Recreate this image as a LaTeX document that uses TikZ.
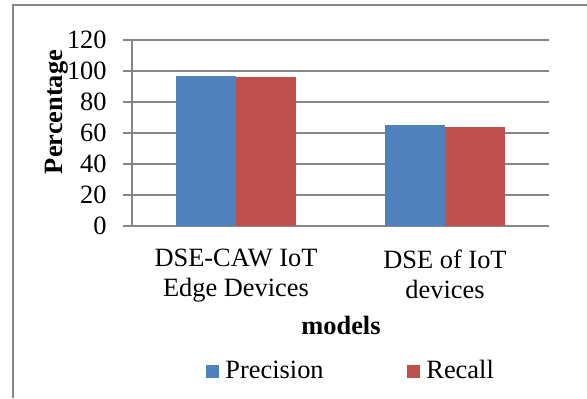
\documentclass[tikz,border=0pt]{standalone}
\usepackage{fontspec}
\setmainfont{Liberation Serif}
\definecolor{precisionblue}{RGB}{79,129,189}
\definecolor{recallred}{RGB}{192,80,77}
\definecolor{gridgray}{RGB}{134,134,134}
\begin{document}
\begin{tikzpicture}[x=0.5pt,y=-0.5pt,
    gridline/.style={draw=gridgray,line width=0.8pt},
    txt/.style={font=\fontsize{13.2}{15}\selectfont,inner sep=0pt},
    bartitle/.style={txt,font=\fontsize{13.2}{15}\selectfont\bfseries}]
      \useasboundingbox (0,0) rectangle (587,398);
      \draw [gridline,line width=1pt] (13,398) -- (13,5) -- (587,5);
      \foreach \v in {0,20,...,120} {
          \draw [gridline] (123,{226-1.55*\v}) -- (549,{226-1.55*\v});
          \node [txt,anchor=east] (t\v) at (107,{226-1.55*\v}) {\v};
      }
      \draw [gridline] (132,40) -- (132,226);
      \foreach \x/\v/\c in {176/97/precisionblue,236/96/recallred,385/65/precisionblue,445/64/recallred}
          \fill [\c] (\x,226) rectangle (\x+60,{226-1.55*\v});
      \node [txt,anchor=north,align=center] (cat1) at (236,249) {DSE-CAW IoT\\Edge Devices};
      \node [txt,anchor=north,align=center] (cat2) at (445,249) {DSE of IoT\\devices};
      \node [bartitle,anchor=base] (xtitle) at (341,334) {models};
      \node [bartitle,anchor=base,rotate=90] (ytitle) at (62,112) {Percentage};
      \fill [precisionblue] (206,365) rectangle (219,378);
      \node [txt,anchor=base west] (lprec) at (225,378) {Precision};
      \fill [recallred] (407,365) rectangle (420,378);
      \node [txt,anchor=base west] (lrec) at (426,378) {Recall};
\end{tikzpicture}
\end{document}
